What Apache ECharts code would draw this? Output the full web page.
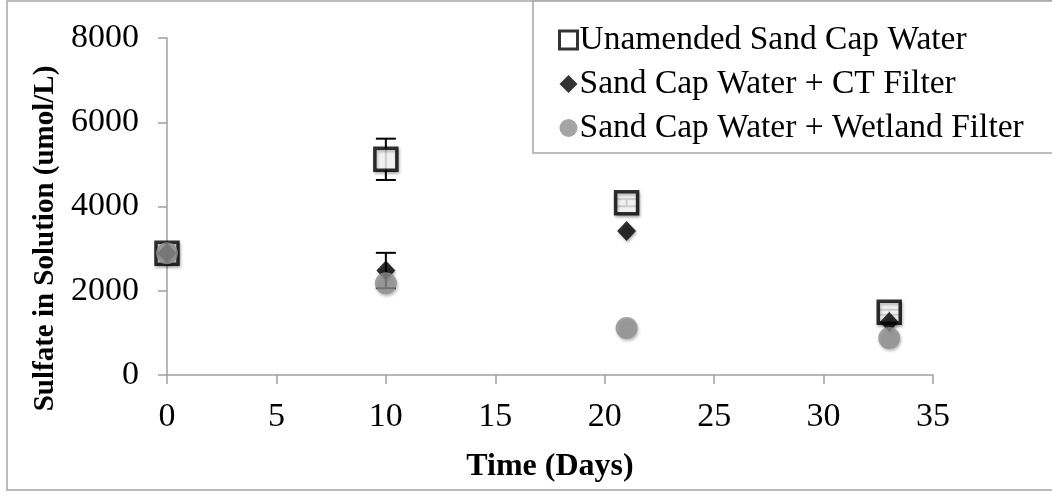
<!DOCTYPE html>
<html>
<head>
<meta charset="utf-8">
<script src="https://cdn.jsdelivr.net/npm/echarts@6/dist/echarts.min.js"></script>
<style>
html,body{margin:0;padding:0;background:#fff;}
#chart{width:1052px;height:497px;}
</style>
</head>
<body>
<div id="chart"></div>
<script>
const days = [0, 10, 21, 33];
const unamended = [2890, 5120, 4090, 1490];
const unamendedErr = [0, 490, 85, 60];
const ctFilter = [2890, 2480, 3420, 1260];
const ctFilterErr = [0, 420, 0, 0];
const wetland = [2890, 2180, 1115, 880];
const wetlandErr = [0, 0, 0, 0];
const xTicks = [0, 5, 10, 15, 20, 25, 30, 35];
const yTicks = [0, 2000, 4000, 6000, 8000];
const seriesNames = ['Unamended Sand Cap Water', 'Sand Cap Water + CT Filter', 'Sand Cap Water + Wetland Filter'];

const FONT = 'Liberation Serif';
const shadow = {shadowBlur: 3, shadowColor: 'rgba(0,0,0,0.35)', shadowOffsetX: 1, shadowOffsetY: 2};

function pairs(vals) { return days.map((d, i) => [d, vals[i]]); }
function errData(vals, errs) { return days.map((d, i) => [d, vals[i], errs[i]]).filter(r => r[2] > 0); }

function errorBars(name, vals, errs, z) {
  return {
    type: 'custom', name: name + ' err', z: z, silent: true,
    data: errData(vals, errs),
    renderItem: function (params, api) {
      const x = api.value(0), y = api.value(1), e = api.value(2);
      const hi = api.coord([x, y + e]);
      const lo = api.coord([x, y - e]);
      const w = 10;
      const st = {stroke: '#000', lineWidth: 2};
      return {type: 'group', children: [
        {type: 'line', shape: {x1: hi[0], y1: hi[1], x2: lo[0], y2: lo[1]}, style: st},
        {type: 'line', shape: {x1: hi[0] - w, y1: hi[1], x2: hi[0] + w, y2: hi[1]}, style: st},
        {type: 'line', shape: {x1: lo[0] - w, y1: lo[1], x2: lo[0] + w, y2: lo[1]}, style: st}
      ]};
    }
  };
}

const chart = echarts.init(document.getElementById('chart'), null, {renderer: 'canvas'});
chart.setOption({
  animation: false,
  backgroundColor: '#fff',
  textStyle: {fontFamily: FONT},
  graphic: [{
    type: 'rect', shape: {x: 7, y: 1, width: 1100, height: 489},
    style: {fill: 'none', stroke: '#a6a6a6', lineWidth: 1.5}, z: -1
  }],
  grid: {left: 167, right: 119, top: 38, bottom: 122},
  legend: {
    left: 533, top: 1,
    orient: 'vertical',
    padding: [22, 120, 8, 25],
    itemGap: 10,
    itemWidth: 18, itemHeight: 18,
    backgroundColor: '#fff',
    borderColor: '#a6a6a6', borderWidth: 1.5,
    textStyle: {fontFamily: FONT, fontSize: 33.5, color: '#000', padding: [0, 0, 0, -3]},
    data: [
      {name: seriesNames[0], icon: 'rect', itemStyle: {color: '#fff', borderColor: '#000', borderWidth: 3}},
      {name: seriesNames[1], icon: 'diamond', itemStyle: {color: '#000'}},
      {name: seriesNames[2], icon: 'circle', itemStyle: {color: '#8f8f8f'}}
    ]
  },
  xAxis: {
    type: 'value', min: 0, max: 35, interval: 5,
    name: 'Time (Days)', nameLocation: 'middle', nameGap: 76,
    nameTextStyle: {fontFamily: FONT, fontSize: 32, fontWeight: 'bold', color: '#000'},
    axisLine: {show: true, lineStyle: {color: '#a0a0a0', width: 1.5}},
    axisTick: {show: true, inside: false, length: 9, lineStyle: {color: '#a0a0a0', width: 1.5}},
    axisLabel: {fontFamily: FONT, fontSize: 34, color: '#000', margin: 25,
      formatter: v => xTicks.includes(v) ? String(v) : ''},
    splitLine: {show: false}
  },
  yAxis: {
    type: 'value', min: 0, max: 8000, interval: 2000,
    name: 'Sulfate in Solution (umol/L)', nameLocation: 'middle', nameGap: 105,
    nameTextStyle: {fontFamily: FONT, fontSize: 29, fontWeight: 'bold', color: '#000', padding: [0, 64, 0, 0]},
    axisLine: {show: true, lineStyle: {color: '#a0a0a0', width: 1.5}},
    axisTick: {show: true, inside: false, length: 9, lineStyle: {color: '#a0a0a0', width: 1.5}},
    axisLabel: {fontFamily: FONT, fontSize: 34, color: '#000', margin: 28,
      formatter: v => yTicks.includes(v) ? String(v) : ''},
    splitLine: {show: false}
  },
  series: [
    errorBars(seriesNames[0], unamended, unamendedErr, 2),
    {
      name: seriesNames[0], type: 'scatter', z: 3,
      data: pairs(unamended), symbol: 'rect', symbolSize: 22,
      itemStyle: Object.assign({color: '#fff', borderColor: '#000', borderWidth: 3.5}, shadow)
    },
    errorBars(seriesNames[1], ctFilter, ctFilterErr, 4),
    {
      name: seriesNames[1], type: 'scatter', z: 5,
      data: pairs(ctFilter), symbol: 'diamond', symbolSize: [19, 20],
      itemStyle: Object.assign({color: '#000'}, shadow)
    },
    errorBars(seriesNames[2], wetland, wetlandErr, 6),
    {
      name: seriesNames[2], type: 'scatter', z: 7,
      data: pairs(wetland), symbol: 'circle', symbolSize: 22,
      itemStyle: Object.assign({color: '#8f8f8f'}, shadow)
    }
  ]
});
</script>
</body>
</html>
